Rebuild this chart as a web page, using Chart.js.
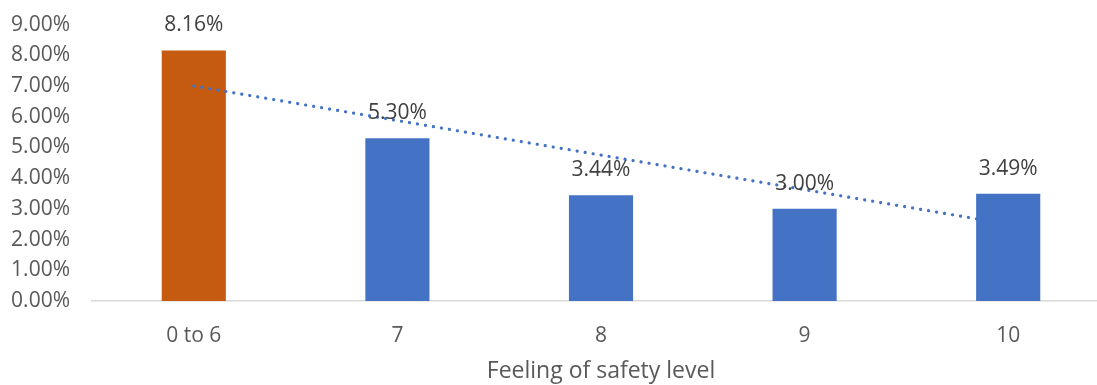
<!DOCTYPE html>
<html>
<head>
<meta charset="utf-8">
<script src="https://cdn.jsdelivr.net/npm/chart.js@4/dist/chart.umd.min.js"></script>
<style>
  html, body { margin: 0; padding: 0; background: #fff; overflow: hidden; }
  #wrap { width: 1097px; height: 385px; overflow: hidden; position: relative; }
  #box { width: 1112px; height: 395px; position: absolute; left: 0; top: -10px; }
</style>
</head>
<body>
<div id="wrap"><div id="box"><canvas id="safetyChart"></canvas></div></div>
<script>
const categories = ['0 to 6', '7', '8', '9', '10'];
const shares = [8.16, 5.30, 3.44, 3.00, 3.49];
const barColors = ['#C55A11', '#4472C4', '#4472C4', '#4472C4', '#4472C4'];
// linear trendline, only its two ends
const trendEnds = [7.00, null, null, null, 2.50];

const labelPlugin = {
    id: 'barLabels',
    afterDatasetsDraw(chart) {
        const ctx = chart.ctx;
        const meta = chart.getDatasetMeta(1);
        ctx.save();
        ctx.font = '21px "Open Sans"';
        ctx.fillStyle = '#404040';
        ctx.textAlign = 'center';
        ctx.textBaseline = 'middle';
        meta.data.forEach(function (bar, i) {
            ctx.fillText(shares[i].toFixed(2) + '%', bar.x, bar.y - 25);
        });
        ctx.restore();
    }
};

function generateChart() {
    const ctx = document.getElementById('safetyChart').getContext('2d');
    new Chart(ctx, {
        type: 'bar',
        data: {
            labels: categories,
            datasets: [
                {
                    type: 'line',
                    label: 'Trend',
                    data: trendEnds,
                    spanGaps: true,
                    borderColor: '#4472C4',
                    borderWidth: 3.2,
                    borderDash: [0.1, 8],
                    borderCapStyle: 'round',
                    pointRadius: 0,
                    fill: false,
                    order: 0
                },
                {
                    label: 'Share',
                    data: shares,
                    backgroundColor: barColors,
                    barPercentage: 0.315,
                    categoryPercentage: 1,
                    order: 1
                }
            ]
        },
        options: {
            responsive: true,
            maintainAspectRatio: false,
            animation: false,
            layout: { padding: { top: 0, left: 10, right: 2, bottom: 0 } },
            plugins: {
                legend: { display: false },
                tooltip: { enabled: false }
            },
            scales: {
                x: {
                    grid: { display: false, drawTicks: false },
                    border: { display: true, color: '#D9D9D9', width: 1.5 },
                    ticks: { color: '#595959', font: { family: 'Open Sans', size: 21 }, padding: 22 },
                    title: {
                        display: true,
                        text: 'Feeling of safety level',
                        color: '#595959',
                        font: { family: 'Open Sans', size: 23 },
                        padding: { top: 0, bottom: 0 }
                    },
                    afterFit: function (scale) { scale.height = 84; }
                },
                y: {
                    min: 0,
                    max: 9,
                    grid: { display: false, drawTicks: false },
                    border: { display: false },
                    ticks: {
                        stepSize: 1,
                        color: '#595959',
                        font: { family: 'Open Sans', size: 21 },
                        padding: 22,
                        callback: function (v) { return v.toFixed(2) + '%'; }
                    },
                    afterFit: function (scale) { scale.width = 82; }
                }
            }
        },
        plugins: [labelPlugin]
    });
}

window.onload = generateChart;
</script>
</body>
</html>
